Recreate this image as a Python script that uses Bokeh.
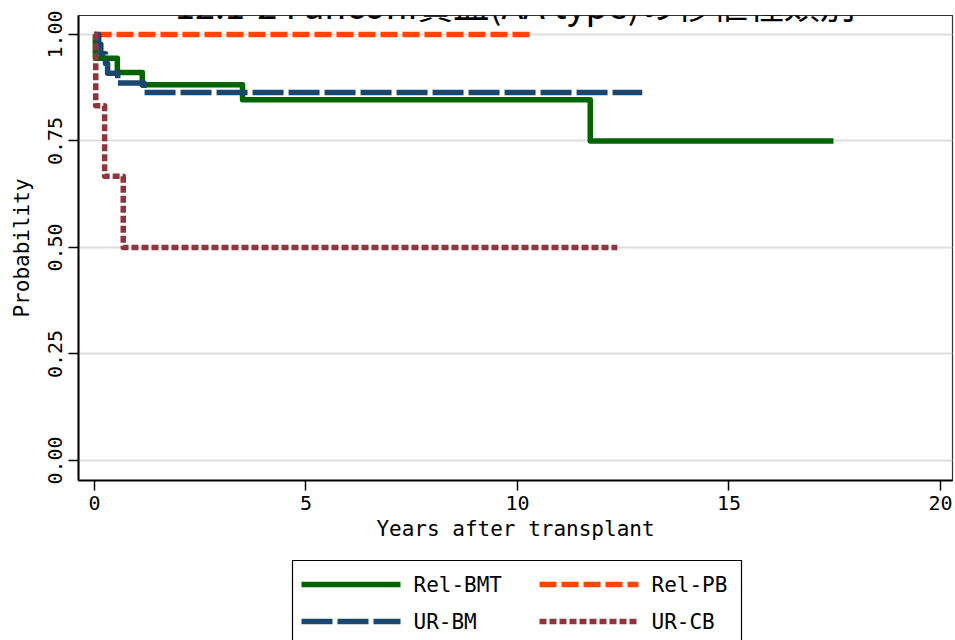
from bokeh.plotting import figure
from bokeh.layouts import column
from bokeh.models import Range1d, FixedTicker, Label, NumeralTickFormatter
from bokeh.core.properties import value
from bokeh.embed import file_html
from bokeh.resources import INLINE

# ---------------- data ----------------
title_text = "12.1-2 Fanconi貧血(AA type)の移植種類別"
x_label = "Years after transplant"
y_label = "Probability"
x_ticks = [0, 5, 10, 15, 20]
y_ticks = [0.0, 0.25, 0.5, 0.75, 1.0]

groups = ["Rel-BMT", "Rel-PB", "UR-BM", "UR-CB"]

relbmt_t = [0.0, 0.02, 0.54, 1.13, 3.5, 11.72, 17.47]
relbmt_s = [1.0, 0.944, 0.911, 0.882, 0.847, 0.75, 0.75]

relpb_t = [0.0, 10.38]
relpb_s = [1.0, 1.0]

urbm_t = [0.0, 0.1, 0.15, 0.26, 0.31, 0.55, 1.17, 12.95]
urbm_s = [1.0, 0.977, 0.955, 0.932, 0.909, 0.886, 0.864, 0.864]

urcb_t = [0.0, 0.03, 0.24, 0.68, 12.36]
urcb_s = [1.0, 0.833, 0.667, 0.5, 0.5]

# ---------------- style ----------------
colors = ["#006400", "#ff4500", "#1a476f", "#90353b"]
dashes = ["solid", "17 5", "31 5", "7 3"]
LW = 5.5
JP = "Noto Sans CJK JP"
MONO = "DejaVu Sans Mono"

p = figure(width=955, height=558, output_backend="svg", toolbar_location=None,
           x_range=Range1d(-0.378, 20.284), y_range=Range1d(-0.047, 1.0446),
           min_border_left=78, min_border_right=3, min_border_top=15,
           min_border_bottom=78)
p.background_fill_color = "white"
p.border_fill_color = "white"
p.outline_line_color = "#333333"
p.outline_line_width = 1.2

series = [(relbmt_t, relbmt_s), (relpb_t, relpb_s), (urbm_t, urbm_s), (urcb_t, urcb_s)]
for (t, s), c, d in zip(series, colors, dashes):
    p.step(t, s, mode="after", line_color=c, line_width=LW, line_dash=d,
           line_join="round")

# axes
p.xaxis.ticker = FixedTicker(ticks=x_ticks)
p.yaxis.ticker = FixedTicker(ticks=y_ticks)
p.yaxis.formatter = NumeralTickFormatter(format="0.00")
p.xaxis.axis_label = x_label
p.yaxis.axis_label = y_label
for ax in (p.xaxis, p.yaxis):
    ax.axis_line_color = "black"
    ax.axis_line_width = 2
    ax.major_tick_line_color = "black"
    ax.major_tick_line_width = 1.5
    ax.major_tick_out = 10
    ax.major_tick_in = 0
    ax.minor_tick_line_color = None
    ax.major_label_text_font = MONO
    ax.major_label_text_font_size = "20px"
    ax.major_label_text_color = "black"
    ax.axis_label_text_font = MONO
    ax.axis_label_text_font_size = "21px"
    ax.axis_label_text_font_style = "normal"
    ax.axis_label_text_color = "black"
p.yaxis.major_label_orientation = "vertical"
p.yaxis.major_label_standoff = 6
p.xaxis.major_label_standoff = 5
p.xaxis.axis_label_standoff = 4
p.yaxis.axis_label_standoff = 12

p.xgrid.grid_line_color = None
p.ygrid.ticker = FixedTicker(ticks=y_ticks)
p.ygrid.grid_line_color = "#dddddd"
p.ygrid.grid_line_width = 2

# title (its top runs past the page edge, as in the reference)
p.add_layout(Label(x=9.95, y=1.075, text=title_text, text_align="center",
                   text_baseline="alphabetic", text_font=JP,
                   text_font_size="36px", text_color="black"))

# ---------------- legend strip (page-pixel coordinates) ----------------
q = figure(width=955, height=82, output_backend="svg", toolbar_location=None,
           x_range=Range1d(78, 952), y_range=Range1d(640, 558), min_border=0,
           min_border_left=78, min_border_right=3,
           x_axis_location=None, y_axis_location=None)
q.grid.visible = False
q.outline_line_color = None
q.background_fill_color = "white"
q.border_fill_color = "white"

# legend frame
q.quad(left=[292], right=[741], top=[560], bottom=[660], fill_color="white",
       line_color="black", line_width=1.2)

# two columns x two rows: Rel-BMT, Rel-PB / UR-BM, UR-CB
col_x0 = [301, 539]
row_y = [584, 621]
order = [(0, 0, 0), (1, 0, 1), (2, 1, 0), (3, 1, 1)]  # (series, row, col)
for k, r, cidx in order:
    x0 = col_x0[cidx]
    q.line([x0, x0 + 99], [row_y[r], row_y[r]], line_color=colors[k],
           line_width=LW, line_dash=dashes[k])
    q.text(x=[x0 + 112], y=[row_y[r]], text=[groups[k]],
           text_font=value(MONO), text_font_size="21px", text_color="black",
           text_baseline="middle", text_align="left")

layout = column(p, q, spacing=0)
open("out.html", "w").write(file_html(layout, INLINE))
